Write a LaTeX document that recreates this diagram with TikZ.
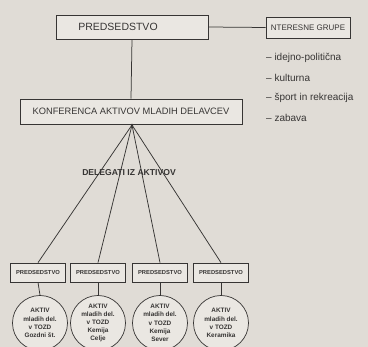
\documentclass[tikz,border=0pt]{standalone}
\usepackage{fontspec}
\setmainfont{Liberation Sans}
\usetikzlibrary{positioning}
\definecolor{papercolor}{RGB}{224,220,214}
\definecolor{boxcolor}{RGB}{234,231,226}
\definecolor{inkcolor}{RGB}{55,53,52}
\tikzset{
    bigbox/.style={rectangle, draw=inkcolor, line width=0.8pt, fill=boxcolor,
        inner sep=0pt, font=\fontsize{10.5}{11}\selectfont, text=inkcolor},
    smallbox/.style={rectangle, draw=inkcolor, line width=0.7pt, fill=boxcolor,
        minimum width=55pt, minimum height=19pt, inner sep=0pt,
        font=\fontsize{5.8}{6}\selectfont\bfseries, text=inkcolor},
    aktiv/.style={circle, draw=inkcolor, line width=0.7pt, fill=boxcolor,
        minimum size=55pt, inner sep=0pt, align=center,
        font=\fontsize{6.4}{8.2}\selectfont\bfseries, text=inkcolor},
    item/.style={anchor=west, inner sep=0pt, font=\fontsize{10}{11}\selectfont, text=inkcolor},
    link/.style={draw=inkcolor, line width=0.75pt}
}

\begin{document}
\begin{tikzpicture}[x=1pt, y=-1pt, node distance=20pt]

    \fill[papercolor] (0,0) rectangle (368,347);
    \useasboundingbox (0,0) rectangle (368,347);

    \node[bigbox, minimum width=152pt, minimum height=24pt] (pred) at (132,27) {};
    \node[inner sep=0pt, font=\fontsize{10.5}{11}\selectfont, text=inkcolor] (predtext) at (118,27) {PREDSEDSTVO};

    \node[bigbox, minimum width=84pt, minimum height=21pt, font=\fontsize{8}{9}\selectfont] (grupe) at (308,27.5) {NTERESNE GRUPE};

    \node[item] (ideja) at (266,58) {-- idejno-politična};
    \node[item, below=of ideja.west, anchor=west] (kult) {-- kulturna};
    \node[item, below=of kult.west, anchor=west] (sport) {-- šport in rekreacija};
    \node[item, below=of sport.west, anchor=west] (zab) {-- zabava};

    \node[bigbox, minimum width=222pt, minimum height=25pt, font=\fontsize{9.3}{10}\selectfont] (konf) at (131,111.5) {KONFERENCA AKTIVOV MLADIH DELAVCEV};

    \coordinate (apex) at (132,125);
    \fill[inkcolor] (apex) circle (1.3pt);

    \node[smallbox] (p1) at (38,272.5) {PREDSEDSTVO};
    \node[smallbox] (p2) at (98,272.5) {PREDSEDSTVO};
    \node[smallbox] (p3) at (160,272.5) {PREDSEDSTVO};
    \node[smallbox] (p4) at (221,272.5) {PREDSEDSTVO};

    \node[aktiv] (a1) at (40,323) {AKTIV\\mladih del.\\v TOZD\\Gozdni št.};
    \node[aktiv] (a2) at (98,323) {AKTIV\\mladih del.\\v TOZD\\Kemija\\Celje};
    \node[aktiv] (a3) at (160,323) {AKTIV\\mladih del.\\v TOZD\\Kemija\\Sever};
    \node[aktiv] (a4) at (221,323) {AKTIV\\mladih del.\\v TOZD\\Keramika};

    \draw[link] (pred.south) -- (konf.north);
    \draw[link] (pred.east) -- (grupe.west);
    \draw[link] (apex) -- (p1.north);
    \draw[link] (apex) -- (p2.north);
    \draw[link] (apex) -- (p3.north);
    \draw[link] (apex) -- (p4.north);
    \draw[link] (p1.south) -- (a1.north);
    \draw[link] (p2.south) -- (a2.north);
    \draw[link] (p3.south) -- (a3.north);
    \draw[link] (p4.south) -- (a4.north);

    \node[inner sep=0pt, font=\fontsize{8.6}{9}\selectfont\bfseries, text=inkcolor] (deleg) at (129,173) {DELEGATI IZ AKTIVOV};

\end{tikzpicture}
\end{document}
